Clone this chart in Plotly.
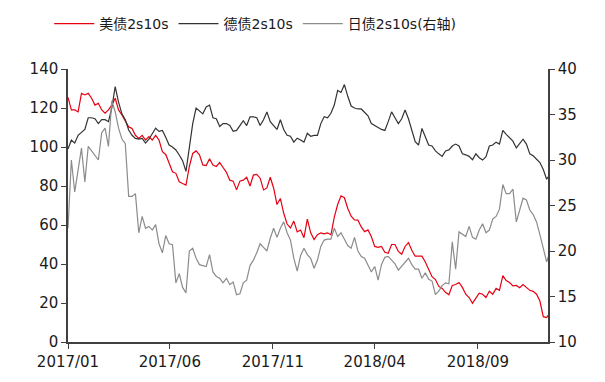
import pandas as pd
import plotly.graph_objects as go

# 5-day sampled dates starting 2017-01-01
dates = pd.date_range("2017-01-01", periods=144, freq="5D")

us_2s10s = [
    125.5, 119.0, 119.0, 118.0, 127.5, 126.7, 127.5, 125.0, 121.5, 122.4,
    119.0, 117.3, 119.0, 121.5, 125.0, 119.0, 116.4, 113.7, 110.3, 109.5,
    106.0, 104.4, 106.0, 103.6, 105.3, 103.6, 106.0, 103.6, 97.6, 96.2,
    91.7, 87.3, 86.5, 82.2, 81.3, 80.5, 90.0, 96.7, 98.0, 96.0,
    90.8, 90.5, 94.0, 90.8, 90.0, 92.0, 89.5, 87.0, 83.0, 82.5,
    78.0, 82.5, 83.0, 84.5, 80.0, 85.6, 86.0, 84.0, 78.0, 79.0,
    84.5, 79.0, 70.5, 73.6, 66.0, 60.5, 58.5, 62.0, 56.5, 57.4,
    53.5, 63.0, 56.0, 52.5, 55.0, 56.0, 55.5, 56.0, 55.0, 64.0,
    70.5, 75.0, 74.0, 68.5, 64.5, 62.6, 62.5, 59.0, 56.6, 57.5,
    54.0, 49.0, 48.5, 49.0, 46.0, 45.5, 50.0, 50.0, 46.5, 45.0,
    49.0, 51.0, 47.0, 44.0, 44.0, 44.0, 41.0, 37.0, 33.5, 32.0,
    28.5, 27.5, 25.5, 24.2, 29.0, 29.5, 30.5, 28.0, 24.5, 22.8,
    19.8, 22.5, 25.0, 24.5, 22.8, 26.0, 24.5, 27.5, 26.5, 34.0,
    31.5, 30.5, 28.8, 29.0, 27.8, 29.5, 28.0, 26.5, 26.0, 24.5,
    21.0, 13.0, 12.5, 15.0,
]

de_2s10s = [
    99.0, 103.6, 102.0, 106.0, 107.5, 109.0, 115.0, 115.0, 114.5, 112.0,
    114.0, 114.0, 113.0, 120.0, 131.0, 123.0, 117.0, 114.0, 108.7, 106.0,
    104.4, 104.0, 104.4, 102.0, 104.0, 107.0, 109.6, 108.0, 108.5, 105.0,
    101.0, 100.0, 98.5, 95.9, 93.0, 87.5, 100.0, 112.0, 120.0, 118.5,
    117.0, 120.5, 121.5, 115.0, 114.5, 110.5, 112.0, 112.0, 111.0, 108.0,
    108.5, 111.0, 113.5, 111.0, 115.5, 115.5, 115.0, 111.0, 114.0, 118.0,
    113.0, 111.0, 109.0, 114.0, 109.0, 106.0, 105.5, 102.5, 104.5, 103.6,
    102.5, 107.0, 105.5, 106.0, 106.0, 112.0, 115.5, 115.0, 117.3, 121.5,
    129.0, 128.0, 132.0, 126.0, 121.0, 120.0, 119.5, 119.5, 118.0, 116.0,
    112.0, 110.8, 110.0, 109.0, 108.5, 113.0, 118.0, 115.0, 112.0, 114.5,
    119.0, 114.5, 108.0, 102.7, 101.0, 109.5, 105.3, 101.0, 100.5, 98.0,
    96.5, 95.2, 98.0, 98.5, 100.5, 101.5, 100.5, 96.5, 96.0, 95.2,
    93.5, 96.5, 94.5, 93.3, 95.0, 100.5, 101.0, 102.5, 101.5, 108.5,
    106.5, 104.8, 103.0, 99.5, 101.5, 104.0, 101.5, 96.5, 95.5, 94.0,
    92.0, 88.5, 83.5, 86.0,
]

jp_2s10s = [
    22.5, 30.0, 26.5, 29.0, 31.3, 27.6, 31.5, 31.0, 30.5, 30.0,
    33.0, 33.5, 31.5, 36.5, 35.3, 33.5, 32.3, 31.8, 26.0, 26.0,
    26.3, 22.0, 23.8, 22.5, 22.7, 22.3, 22.9, 20.8, 19.8, 21.7,
    20.8, 20.7, 16.5, 17.5, 16.0, 15.4, 20.0, 20.3, 19.2, 18.5,
    18.4, 18.3, 19.6, 17.7, 17.2, 17.0, 16.5, 17.0, 16.3, 16.6,
    15.2, 15.3, 16.5, 16.8, 18.4, 19.0, 19.8, 20.8, 20.4, 20.0,
    21.4, 22.5, 21.5, 22.5, 23.2, 22.0, 21.2, 19.2, 17.8, 19.5,
    20.3, 19.6, 19.2, 18.1, 19.0, 20.5, 21.2, 21.3, 21.3, 22.5,
    21.6, 22.0, 21.3, 20.6, 20.3, 21.5, 20.0, 19.4, 19.2, 18.5,
    17.7, 18.3, 16.8, 18.5, 19.3, 19.4, 19.0, 18.6, 17.9, 18.3,
    18.7, 19.2, 18.5, 18.0, 18.0, 17.0, 17.6, 16.9, 16.7, 15.2,
    15.6, 16.2, 16.5, 16.4, 21.0, 18.0, 22.1, 21.8, 21.6, 22.7,
    21.5, 21.3, 22.3, 23.0, 22.0, 22.3, 23.5, 23.8, 24.6, 27.3,
    26.3, 26.3, 26.8, 23.2, 24.5, 25.8, 25.6, 24.5, 24.0, 23.2,
    21.8, 20.3, 18.8, 19.9,
]

x_tick_vals = ["2017-01-01", "2017-06-01", "2017-11-01", "2018-04-01", "2018-09-01"]
x_tick_text = ["2017/01", "2017/06", "2017/11", "2018/04", "2018/09"]

FONT = "DejaVu Sans, Noto Sans CJK SC, sans-serif"
AXIS_COLOR = "#404040"

fig = go.Figure()
fig.add_trace(go.Scatter(x=dates, y=us_2s10s, name="美债2s10s", mode="lines",
                         line=dict(color="#E60012", width=1.2)))
fig.add_trace(go.Scatter(x=dates, y=de_2s10s, name="德债2s10s", mode="lines",
                         line=dict(color="#333333", width=1.2)))
fig.add_trace(go.Scatter(x=dates, y=jp_2s10s, name="日债2s10s(右轴)", mode="lines",
                         line=dict(color="#8C8C8C", width=1.2), yaxis="y2"))

fig.update_layout(
    width=597, height=374,
    margin=dict(l=60, r=57, t=61, b=40),
    paper_bgcolor="white", plot_bgcolor="white",
    font=dict(family=FONT, size=15, color="#1a1a1a"),
    showlegend=True,
    legend=dict(orientation="h", xref="container", x=0.069, xanchor="left",
                yref="container", y=1.0, yanchor="top",
                font=dict(size=14), itemwidth=40,
                tracegroupgap=0, bgcolor="rgba(0,0,0,0)"),
    xaxis=dict(type="date", range=["2017-01-01", "2018-12-14"],
               tickvals=x_tick_vals, ticktext=x_tick_text,
               showgrid=False, zeroline=False, showline=True, linecolor=AXIS_COLOR,
               linewidth=1.5, ticks="outside", ticklen=5, tickcolor=AXIS_COLOR,
               tickfont=dict(size=15)),
    yaxis=dict(range=[0, 140], dtick=20, showgrid=False, zeroline=False,
               showline=True, linecolor=AXIS_COLOR, linewidth=1.5,
               ticks="outside", ticklen=5, tickcolor=AXIS_COLOR,
               tickfont=dict(size=15)),
    yaxis2=dict(range=[10, 40], dtick=5, overlaying="y", side="right",
                showgrid=False, zeroline=False, showline=True, linecolor=AXIS_COLOR,
                linewidth=1.5, ticks="outside", ticklen=5, tickcolor=AXIS_COLOR,
                tickfont=dict(size=15)),
)

fig.write_html("out.html")
